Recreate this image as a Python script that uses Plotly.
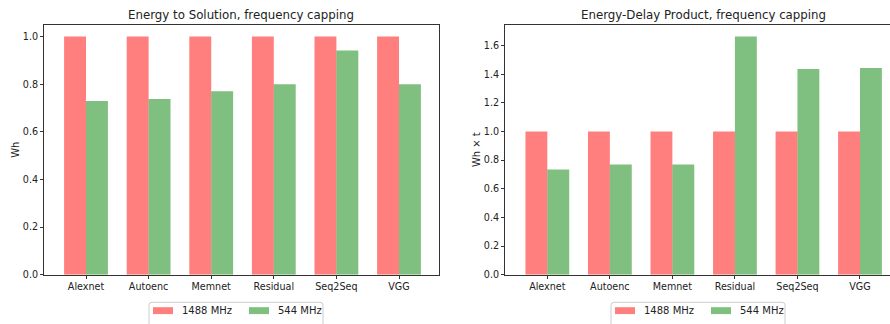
import plotly.graph_objects as go

categories = ["Alexnet", "Autoenc", "Memnet", "Residual", "Seq2Seq", "VGG"]
series_names = ["1488 MHz", "544 MHz"]
ets_1488 = [1.0, 1.0, 1.0, 1.0, 1.0, 1.0]
ets_544 = [0.729, 0.738, 0.770, 0.800, 0.941, 0.800]
edp_1488 = [1.0, 1.0, 1.0, 1.0, 1.0, 1.0]
edp_544 = [0.734, 0.769, 0.769, 1.663, 1.436, 1.443]
yticks_left = [0.0, 0.2, 0.4, 0.6, 0.8, 1.0]
yticks_right = [0.0, 0.2, 0.4, 0.6, 0.8, 1.0, 1.2, 1.4, 1.6]

RED = "rgba(255,0,0,0.5)"
GREEN = "rgba(0,128,0,0.5)"
COLORS = [RED, GREEN]
FONT = "DejaVu Sans"
TXT = "#222222"
W, H = 890, 324
xpos = list(range(len(categories)))

fig = go.Figure()
for vals, ax, ay in [((ets_1488, ets_544), "x", "y"), ((edp_1488, edp_544), "x2", "y2")]:
    for i, v in enumerate(vals):
        fig.add_trace(go.Bar(x=xpos, y=v, name=series_names[i],
                             marker=dict(color=COLORS[i], line=dict(width=0)),
                             offsetgroup=str(i), xaxis=ax, yaxis=ay, showlegend=False))

axcol = "#333333"
tickfont = dict(family=FONT, size=9.6, color=TXT)
common_x = dict(tickmode="array", tickvals=xpos, ticktext=categories, ticks="outside", ticklen=3,
                tickcolor=axcol, showline=True, linecolor=axcol, linewidth=1, showgrid=False,
                zeroline=False, tickfont=tickfont, fixedrange=True)
common_y = dict(ticks="outside", ticklen=3, tickcolor=axcol, showline=True, linecolor=axcol,
                linewidth=1, showgrid=False, zeroline=False, tickfont=tickfont, tickformat=".1f",
                tickmode="array")


def px_x(p):
    return p / W


def px_y(p):
    return 1 - p / H


shapes = []
annotations = [
    dict(text="Energy to Solution, frequency capping", x=px_x(241), y=px_y(15), xref="paper",
         yref="paper", showarrow=False, xanchor="center", yanchor="middle",
         font=dict(family=FONT, size=11.8, color=TXT)),
    dict(text="Energy-Delay Product, frequency capping", x=px_x(703), y=px_y(15), xref="paper",
         yref="paper", showarrow=False, xanchor="center", yanchor="middle",
         font=dict(family=FONT, size=11.8, color=TXT)),
]

# manual legends (matplotlib-style, cut off at the bottom edge)
for lx in (149, 611):
    x0, x1, y0, y1, r = lx, lx + 174, 307, 345, 3
    path = (f"M {px_x(x0)},{px_y(y1)} L {px_x(x0)},{px_y(y0 + r)} "
            f"Q {px_x(x0)},{px_y(y0)} {px_x(x0 + r)},{px_y(y0)} "
            f"L {px_x(x1 - r)},{px_y(y0)} Q {px_x(x1)},{px_y(y0)} {px_x(x1)},{px_y(y0 + r)} "
            f"L {px_x(x1)},{px_y(y1)}")
    shapes.append(dict(type="path", path=path, xref="paper", yref="paper",
                       line=dict(color="#cccccc", width=1), fillcolor="white", layer="above"))
    for i, name in enumerate(series_names):
        sx = lx + 4 + i * 96
        shapes.append(dict(type="rect", xref="paper", yref="paper",
                           x0=px_x(sx), x1=px_x(sx + 20), y0=px_y(319), y1=px_y(312),
                           fillcolor=COLORS[i], line=dict(width=0), layer="above"))
        annotations.append(dict(text=name, x=px_x(sx + 27), y=px_y(315.5), xref="paper",
                                yref="paper", showarrow=False, xanchor="left", yanchor="middle",
                                font=dict(family=FONT, size=10, color=TXT)))

fig.update_layout(
    width=W, height=H, margin=dict(l=0, r=0, t=0, b=0),
    paper_bgcolor="white", plot_bgcolor="white",
    barmode="group", bargap=0.3, bargroupgap=0, showlegend=False,
    font=dict(family=FONT, size=10, color=TXT),
    xaxis=dict(domain=[px_x(44), px_x(438.7)], range=[-0.671, 5.634], anchor="y", mirror=True,
               **common_x),
    yaxis=dict(domain=[px_y(279), px_y(25)], range=[0, 1.05], anchor="x", mirror=True,
               tickvals=yticks_left,
               title=dict(text="Wh", standoff=1, font=dict(family=FONT, size=10)), **common_y),
    xaxis2=dict(domain=[px_x(505), 1.0], range=[-0.677, 5.48], anchor="y2", mirror=True,
                **common_x),
    yaxis2=dict(domain=[px_y(279), px_y(25)], range=[0, 1.746], anchor="x2", mirror=False,
                tickvals=yticks_right,
                title=dict(text="Wh × t", standoff=1, font=dict(family=FONT, size=10)),
                **common_y),
    shapes=shapes,
    annotations=annotations,
)

fig.write_html("out.html", config={"displayModeBar": False},
               post_script="document.body.style.margin='0px';document.body.style.overflow='hidden';")
